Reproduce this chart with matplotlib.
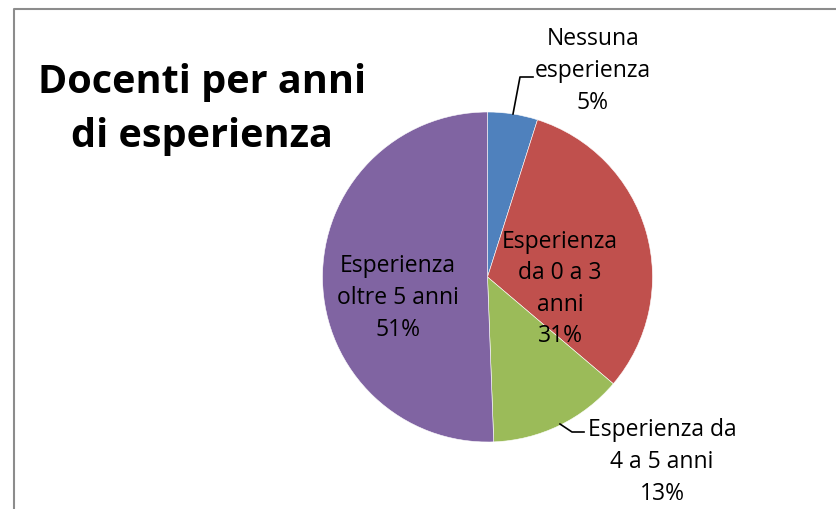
import matplotlib
matplotlib.use('Agg')
import matplotlib.pyplot as plt

# Dati del grafico
categorie = ['Nessuna\nesperienza', 'Esperienza\nda 0 a 3\nanni', 'Esperienza da\n4 a 5 anni', 'Esperienza\noltre 5 anni']
percentuali = [4.9, 31.3, 13.2, 50.6]
colori = ['#4F81BD', '#C0504D', '#9BBB59', '#8064A2']
titolo = 'Docenti per anni\ndi esperienza'

W, H = 837, 510
plt.rcParams['font.family'] = ['Open Sans', 'DejaVu Sans']

fig = plt.figure(figsize=(W / 100, H / 100), dpi=100)
ax = fig.add_axes([0, 0, 1, 1])


def py(y):
    # coordinate in pixel dall'alto -> coordinate del grafico
    return H - y


cx, cy, r = 487.5, py(278), 165
wedges, _ = ax.pie(percentuali, colors=colori, startangle=90, counterclock=False,
                   center=(cx, cy), radius=r,
                   wedgeprops=dict(edgecolor='white', linewidth=0.4))

# posizioni delle etichette (pixel)
pos_etichette = [(593, 71), (560, 289), (662, 462), (398, 298)]
for nome, p, (x, y) in zip(categorie, percentuali, pos_etichette):
    ax.text(x, py(y), f'{nome}\n{p:.0f}%', ha='center', va='center',
            fontsize=16.5, linespacing=1.42, color='black')

# linee guida
ax.plot([513, 520, 533], [py(115), py(78), py(78)], color='black', lw=1.2)
ax.plot([560, 572, 584], [py(425), py(433), py(433)], color='black', lw=1.2)

ax.text(202, py(110), titolo, ha='center', va='center', fontsize=28.5,
        fontweight='bold', linespacing=1.5)

# cornice
ax.plot([14, 14, W], [0, py(10), py(10)], color='#8c8c8c', lw=1.5)

ax.set_xlim(0, W)
ax.set_ylim(0, H)
ax.set_aspect('auto')
ax.axis('off')

fig.savefig('out.png', dpi=100)
